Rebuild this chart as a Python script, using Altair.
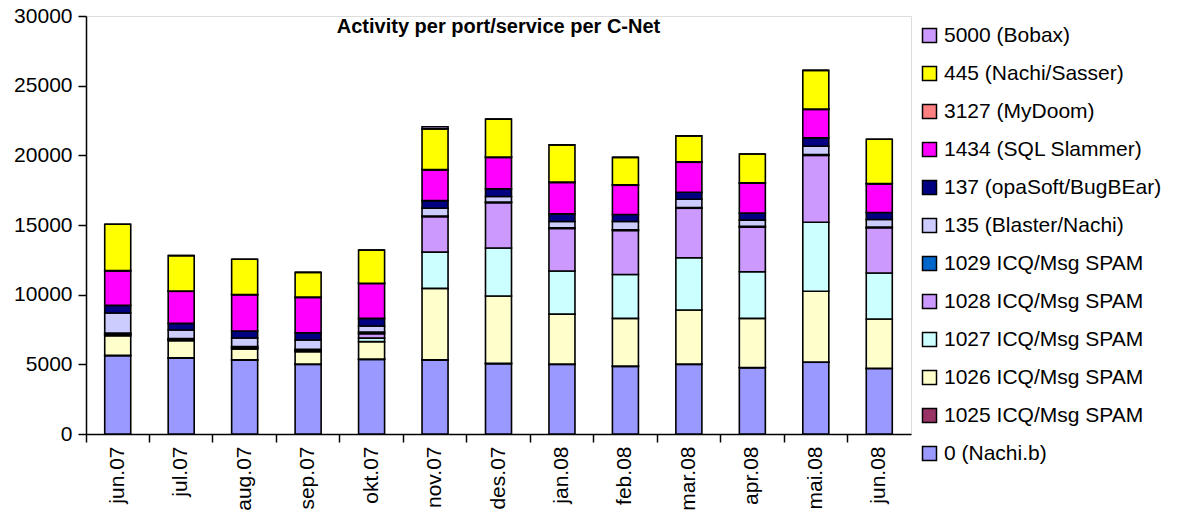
import altair as alt
import pandas as pd

months = ["jun.07", "jul.07", "aug.07", "sep.07", "okt.07", "nov.07", "des.07",
          "jan.08", "feb.08", "mar.08", "apr.08", "mai.08", "jun.08"]

# series, bottom of stack first
series_names = ["0 (Nachi.b)", "1025 ICQ/Msg SPAM", "1026 ICQ/Msg SPAM", "1027 ICQ/Msg SPAM",
                "1028 ICQ/Msg SPAM", "1029 ICQ/Msg SPAM", "135 (Blaster/Nachi)",
                "137 (opaSoft/BugBEar)", "1434 (SQL Slammer)", "3127 (MyDoom)",
                "445 (Nachi/Sasser)", "5000 (Bobax)"]
series_colors = ["#9999FF", "#993366", "#FFFFCC", "#CCFFFF", "#CC99FF", "#0066CC",
                 "#CCCCFF", "#000080", "#FF00FF", "#FF8080", "#FFFF00", "#CC99FF"]

nachi_b = [5620, 5450, 5300, 5000, 5350, 5300, 5050, 5000, 4850, 5000, 4750, 5150, 4700]
p1025 = [30, 20, 20, 20, 30, 20, 20, 20, 20, 20, 20, 20, 20]
p1026 = [1400, 1230, 780, 890, 1250, 5130, 4830, 3580, 3430, 3880, 3530, 5080, 3530]
p1027 = [70, 60, 60, 60, 250, 2600, 3450, 3100, 3150, 3750, 3350, 4950, 3300]
p1028 = [60, 50, 60, 60, 320, 2550, 3250, 3050, 3150, 3550, 3200, 4800, 3250]
p1029 = [60, 40, 60, 50, 120, 50, 50, 50, 50, 50, 50, 50, 50]
p135 = [1440, 610, 610, 670, 430, 550, 400, 450, 600, 600, 450, 600, 550]
p137 = [550, 480, 500, 520, 550, 550, 550, 550, 500, 500, 500, 600, 500]
p1434 = [2480, 2300, 2600, 2530, 2500, 2200, 2250, 2250, 2100, 2150, 2150, 2050, 2050]
p3127 = [20, 20, 20, 20, 20, 30, 30, 30, 30, 30, 30, 30, 30]
p445 = [3320, 2540, 2530, 1780, 2380, 2920, 2720, 2670, 1970, 1870, 2070, 2770, 3170]
p5000 = [0, 0, 0, 0, 0, 150, 0, 0, 0, 0, 0, 0, 0]

all_series = [nachi_b, p1025, p1026, p1027, p1028, p1029, p135, p137, p1434, p3127, p445, p5000]

y_ticks = [0, 5000, 10000, 15000, 20000, 25000, 30000]

rows = []
for si, (name, vals) in enumerate(zip(series_names, all_series)):
    for m, v in zip(months, vals):
        rows.append({"month": m, "series": name, "value": v, "idx": si})
df = pd.DataFrame(rows)

FONT = "Liberation Sans"

chart = alt.Chart(df).mark_bar(stroke="black", strokeWidth=1.6,
                               width=alt.RelativeBandSize(0.41)).encode(
    x=alt.X("month:N", sort=months,
            scale=alt.Scale(paddingInner=0, paddingOuter=0),
            axis=alt.Axis(title=None, labelAngle=270, bandPosition=0,
                          labelFontSize=21, labelFont=FONT, labelColor="black",
                          labelPadding=4, tickSize=8, tickColor="black", tickWidth=1.5,
                          domainColor="black", domainWidth=1.5, grid=False)),
    y=alt.Y("value:Q", stack="zero",
            scale=alt.Scale(domain=[0, 30000], nice=False),
            axis=alt.Axis(title=None, values=y_ticks, format="d", labelFontSize=21,
                          labelFont=FONT, labelColor="black", labelPadding=6, tickSize=8,
                          tickColor="black", tickWidth=1.5, domainColor="black",
                          domainWidth=1.5, grid=False)),
    color=alt.Color("series:N",
                    scale=alt.Scale(domain=series_names[::-1], range=series_colors[::-1]),
                    legend=alt.Legend(title=None, orient="none", legendX=833, legendY=9,
                                      symbolType="square", symbolSize=196,
                                      symbolStrokeColor="black", symbolStrokeWidth=1.5,
                                      symbolOpacity=1, labelFontSize=21, labelFont=FONT,
                                      labelColor="black", rowPadding=16, labelOffset=4,
                                      labelLimit=400)),
    order=alt.Order("idx:Q", sort="ascending"),
).properties(
    width=825,
    height=418,
    title=alt.Title("Activity per port/service per C-Net", fontSize=20, fontWeight="bold",
                    font=FONT, color="black", anchor="middle", offset=0, dy=32),
    autosize=alt.AutoSizeParams(type="none"),
    padding={"left": 86, "top": 16, "right": 269, "bottom": 77},
).configure_view(stroke=None).configure(background="white")

chart.save("out.html", embed_options={"renderer": "svg", "actions": False})
